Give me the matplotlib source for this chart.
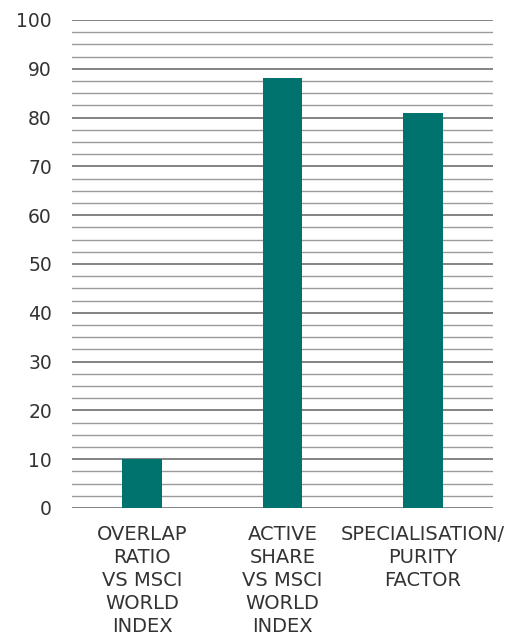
import numpy as np
import matplotlib.pyplot as plt
from matplotlib.ticker import MultipleLocator

# Chart data
categories = ['OVERLAP\nRATIO\nVS MSCI\nWORLD\nINDEX',
              'ACTIVE\nSHARE\nVS MSCI\nWORLD\nINDEX',
              'SPECIALISATION/\nPURITY\nFACTOR']
values = [10, 88, 81]

plt.rcParams['font.family'] = ['DejaVu Sans']

fig = plt.figure(figsize=(5.08, 6.43), dpi=100)
ax = fig.add_axes([0.142, 0.210, 0.828, 0.759])

x = np.arange(len(categories))
ax.bar(x, values, width=0.284, color='#00736e', zorder=3)

ax.set_xlim(-0.5, 2.5)
ax.set_ylim(0, 100)
ax.yaxis.set_major_locator(MultipleLocator(10))
ax.yaxis.set_minor_locator(MultipleLocator(2.5))
ax.grid(which='major', axis='y', color='#6e6e6e', linewidth=1.2, zorder=0)
ax.grid(which='minor', axis='y', color='#9a9a9a', linewidth=1.0, zorder=0)

for s in ax.spines.values():
    s.set_visible(False)

ax.set_xticks(x)
ax.set_xticklabels(categories, fontsize=14, color='#333333', linespacing=1.28,
                   va='top')
ax.tick_params(axis='x', length=0, pad=12)
ax.tick_params(axis='y', which='both', length=0, pad=14.5, labelsize=13.5,
               labelcolor='#333333')

fig.savefig('out.png', dpi=100)
